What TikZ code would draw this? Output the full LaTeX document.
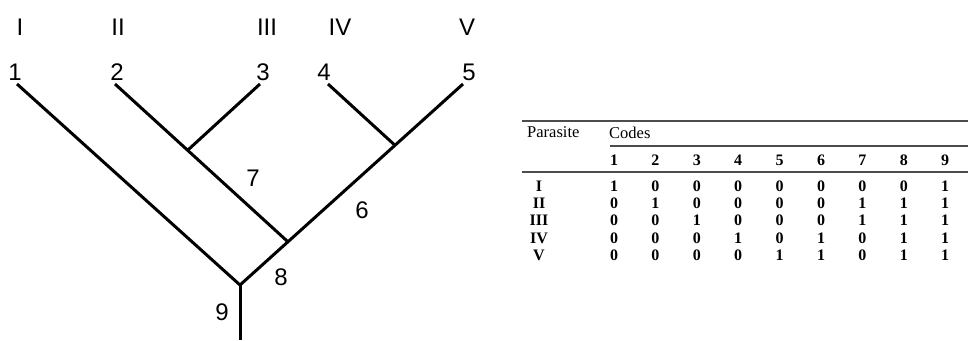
\documentclass[tikz,border=0pt]{standalone}
\usepackage{fontspec}
\setmainfont{Liberation Serif}
\newfontfamily\treefont{Liberation Sans}
\usepackage{tikz}
\usetikzlibrary{calc}

\begin{document}
\begin{tikzpicture}[
  x=1pt, y=-1pt,
  branch/.style={line width=3pt},
  lbl/.style={font=\treefont\fontsize{24}{28}\selectfont, inner sep=0pt},
  tab/.style={font=\fontsize{16.5}{20}\selectfont, inner sep=0pt},
  cell/.style={font=\bfseries\fontsize{16}{19}\selectfont, inner sep=0pt},
  rule/.style={line width=1.1pt, draw=black!70}
]
\useasboundingbox (0,0) rectangle (968,340);
% tree
\coordinate (t1) at (17,84);
\coordinate (t2) at (115,84);
\coordinate (t3) at (260,84);
\coordinate (t4) at (328,84);
\coordinate (t5) at (463,84);
\coordinate (j9) at (240,285);
\coordinate (base) at (240,340);
\coordinate (j8) at ($(t5)!0.785!(j9)$);
\coordinate (j6) at ($(t5)!0.305!(j9)$);
\coordinate (j3) at ($(t2)!0.42!(j8)$);
\draw[branch] (t1) -- (j9) -- (t5);
\draw[branch] (t2) -- (j8);
\draw[branch] (t3) -- (j3);
\draw[branch] (t4) -- (j6);
\draw[branch] (j9) -- (base);
\node[lbl] (r1) at (20,27) {I};
\node[lbl] (r2) at (118,27) {II};
\node[lbl] (r3) at (267,27) {III};
\node[lbl] (r4) at (340,27) {IV};
\node[lbl] (r5) at (467,27) {V};
\node[lbl] (n1) at (15,72) {1};
\node[lbl] (n2) at (117,72) {2};
\node[lbl] (n3) at (263,72) {3};
\node[lbl] (n4) at (324,72) {4};
\node[lbl] (n5) at (469,72) {5};
\node[lbl] (n7) at (253,178) {7};
\node[lbl] (n6) at (362,210) {6};
\node[lbl] (n8) at (281,277) {8};
\node[lbl] (n9) at (222,312) {9};
% table
\coordinate (top) at (522,121);
\coordinate (mid) at (522,172);
\coordinate (cds) at (610,146);
\draw[rule] (top) -- (968,121);
\draw[rule] (cds) -- (968,146);
\draw[rule] (mid) -- (968,172);
\node[tab, anchor=base west] (par) at (527,137) {Parasite};
\node[tab, anchor=base west] (codes) at (609,138) {Codes};
\foreach \c in {1,...,9}
  \node[cell] (h\c) at ({614+41.4*(\c-1)},160) {\c};
\foreach \name/\vals [count=\r] in {I/{1,0,0,0,0,0,0,0,1},II/{0,1,0,0,0,0,1,1,1},III/{0,0,1,0,0,0,1,1,1},IV/{0,0,0,1,0,1,0,1,1},V/{0,0,0,0,1,1,0,1,1}} {
  \node[cell] (p\r) at (539,{186+17.3*(\r-1)}) {\name};
  \foreach \v [count=\c] in \vals
    \node[cell] (v\r-\c) at ({614+41.4*(\c-1)},{186+17.3*(\r-1)}) {\v};
}
\end{tikzpicture}
\end{document}
